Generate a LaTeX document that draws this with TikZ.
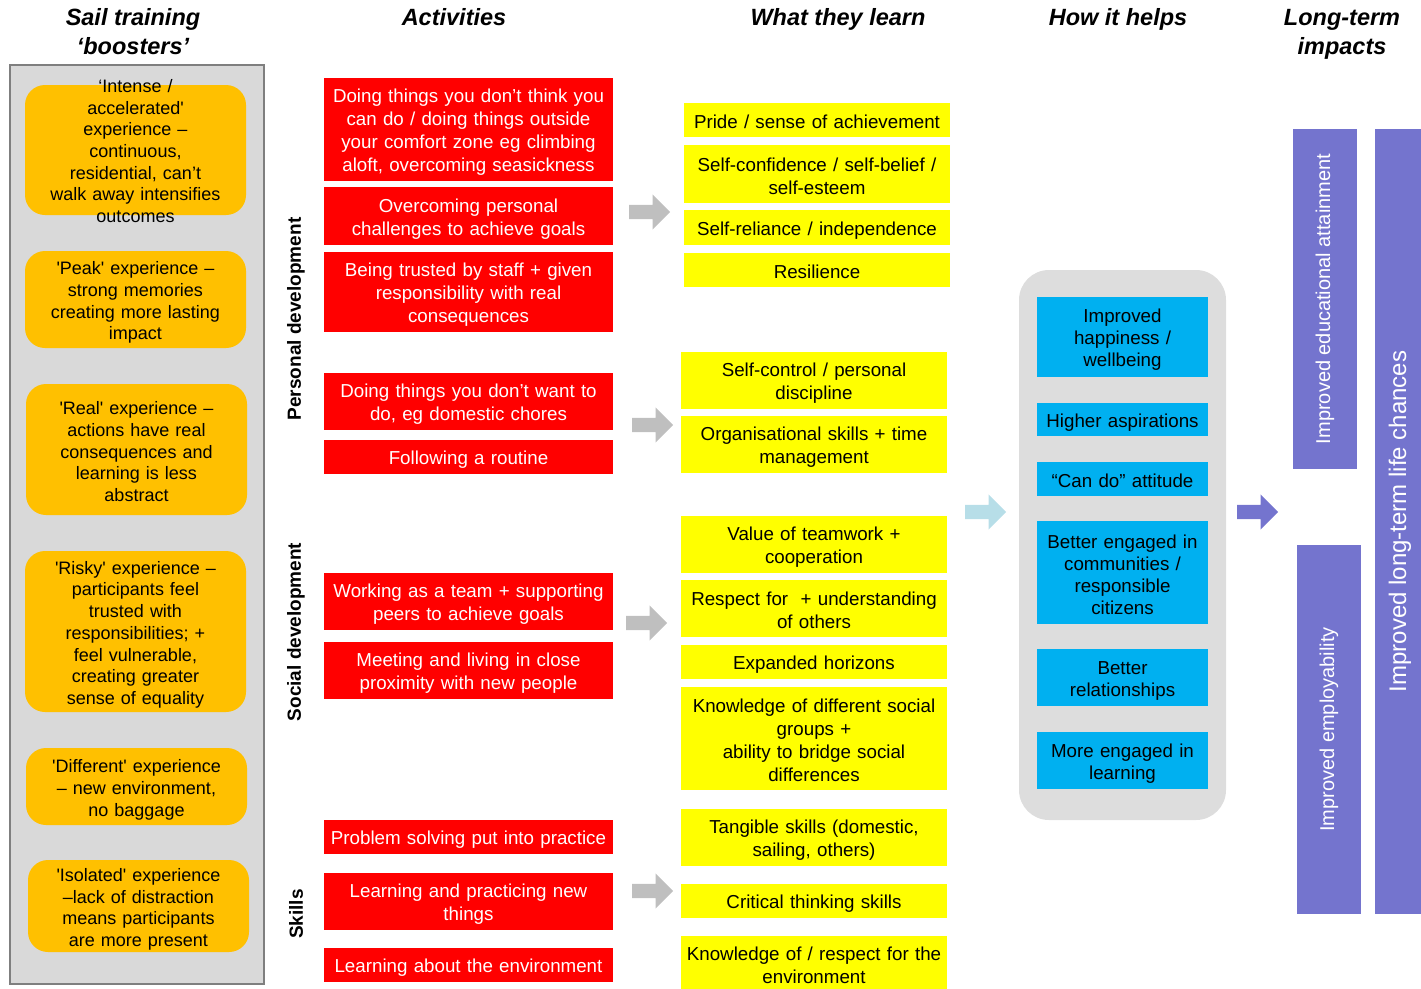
\documentclass[tikz,border=0pt]{standalone}
\usepackage{fontspec}
\setmainfont{Liberation Sans}
\usetikzlibrary{shapes.arrows}
\definecolor{boostorange}{HTML}{FFC000}
\definecolor{panelgrey}{HTML}{D9D9D9}
\definecolor{framegrey}{HTML}{7F7F7F}
\definecolor{helpgrey}{HTML}{DDDDDD}
\definecolor{actred}{HTML}{FF0000}
\definecolor{learnyellow}{HTML}{FFFF00}
\definecolor{helpblue}{HTML}{00B0F0}
\definecolor{impactpurple}{RGB}{116,116,206}
\definecolor{arrowgrey}{HTML}{BFBFBF}
\definecolor{arrowteal}{HTML}{B7DEE8}
\newcommand{\sqt}{\textquotesingle}
\newcommand{\topstrut}{\rule{0pt}{19.5pt}}
\newcommand{\botstrut}{\rule[-2.5pt]{0pt}{2.5pt}}
\tikzset{
 heading/.style={
 align=center,
 inner sep=0pt,
 font=\fontsize{23.5}{29}\selectfont\bfseries\itshape
 },
 strand/.style={
 rotate=90,
 inner sep=0pt,
 font=\fontsize{19}{23}\selectfont\bfseries
 },
 boxtext/.style={
 execute at begin node=\topstrut,
 execute at end node=\botstrut
 },
 boostpanel/.style={
 rectangle,
 fill=panelgrey,
 draw=framegrey,
 line width=1.5pt
 },
 boost/.style={
 rectangle,
 rounded corners=20pt,
 fill=boostorange,
 minimum width=221pt,
 inner sep=0pt
 },
 boosttext/.style={
 boxtext,
 align=center,
 text width=217pt,
 inner sep=0pt,
 font=\fontsize{18}{21.7}\selectfont
 },
 activity/.style={
 rectangle,
 boxtext,
 fill=actred,
 text=white,
 align=center,
 minimum width=289pt,
 text width=285pt,
 inner sep=0pt,
 font=\fontsize{18.75}{23}\selectfont
 },
 learn/.style={
 rectangle,
 boxtext,
 fill=learnyellow,
 align=center,
 minimum width=266pt,
 text width=262pt,
 inner sep=0pt,
 font=\fontsize{18.75}{23}\selectfont
 },
 helppanel/.style={
 rectangle,
 rounded corners=30pt,
 fill=helpgrey,
 minimum width=207pt,
 minimum height=550pt
 },
 helps/.style={
 rectangle,
 boxtext,
 fill=helpblue,
 align=center,
 minimum width=171pt,
 text width=168pt,
 inner sep=0pt,
 font=\fontsize{18.75}{22}\selectfont
 },
 impact/.style={
 rectangle,
 rotate=90,
 fill=impactpurple,
 text=white,
 inner sep=0pt,
 font=\fontsize{20}{24}\selectfont
 },
 blockarrow/.style={
 single arrow,
 draw=none,
 anchor=tail,
 minimum height=41pt,
 minimum width=35pt,
 single arrow head extend=10.5pt,
 single arrow head indent=0pt,
 inner xsep=0pt,
 inner ysep=7pt
 }
}

\begin{document}
\begin{tikzpicture}[x=1pt, y=-1pt]
 \useasboundingbox (0,0) rectangle (1421,988);

 % column headings
 \node[heading] (hboost) at (133,31.5) {Sail training\\‘boosters’};
 \node[heading] (hact) at (454,17) {Activities};
 \node[heading] (hlearn) at (838,19) {What they learn};
 \node[heading] (hhelp) at (1118,19.5) {How it helps};
 \node[heading] (himpact) at (1342,34.5) {Long-term\\impacts};

 % boosters
 \node[boostpanel, minimum width=254pt, minimum height=919pt] (boosters) at (137,524.5) {};
 \node[boost, minimum height=130pt] (o1) at (135.5,150) {};
 \node[boosttext] (o1t) at (135.5,149) {‘Intense /\\accelerated\sqt\\experience –\\continuous,\\residential, can’t\\walk away intensifies\\outcomes};
 \node[boost, minimum height=97pt] (o2) at (135.5,299.5) {};
 \node[boosttext] (o2t) at (o2) {\sqt Peak\sqt{} experience –\\strong memories\\creating more lasting\\impact};
 \node[boost, minimum height=131pt] (o3) at (136.5,449.5) {};
 \node[boosttext] (o3t) at (o3) {\sqt Real\sqt{} experience –\\actions have real\\consequences and\\learning is less\\abstract};
 \node[boost, minimum height=161pt] (o4) at (135.5,631.5) {};
 \node[boosttext] (o4t) at (o4) {\sqt Risky\sqt{} experience –\\participants feel\\trusted with\\responsibilities; +\\feel vulnerable,\\creating greater\\sense of equality};
 \node[boost, minimum height=77pt] (o5) at (136.5,786.5) {};
 \node[boosttext] (o5t) at (o5) {\sqt Different\sqt{} experience\\– new environment,\\no baggage};
 \node[boost, minimum height=92pt] (o6) at (138.5,906) {};
 \node[boosttext] (o6t) at (o6) {\sqt Isolated\sqt{} experience\\–lack of distraction\\means participants\\are more present};

 % strands
 \node[strand] (personal) at (296,319) {Personal development};
 \node[strand] (social) at (296,632) {Social development};
 \node[strand] (skills) at (296,914) {Skills};

 % activities
 \node[activity, minimum height=103pt] (a1) at (468.5,129.5) {Doing things you don’t think you\\can do / doing things outside\\your comfort zone eg climbing\\aloft, overcoming seasickness};
 \node[activity, minimum height=58pt] (a2) at (468.5,216) {Overcoming personal\\challenges to achieve goals};
 \node[activity, minimum height=80pt] (a3) at (468.5,292) {Being trusted by staff + given\\responsibility with real\\consequences};
 \node[activity, minimum height=57pt] (a4) at (468.5,401.5) {Doing things you don’t want to\\do, eg domestic chores};
 \node[activity, minimum height=34pt] (a5) at (468.5,457) {Following a routine};
 \node[activity, minimum height=57pt] (a6) at (468.5,601.5) {Working as a team + supporting\\peers to achieve goals};
 \node[activity, minimum height=57pt] (a7) at (468.5,670.5) {Meeting and living in close\\proximity with new people};
 \node[activity, minimum height=34pt] (a8) at (468.5,837) {Problem solving put into practice};
 \node[activity, minimum height=57pt] (a9) at (468.5,901.5) {Learning and practicing new\\things};
 \node[activity, minimum height=34pt] (a10) at (468.5,965) {Learning about the environment};

 \node[blockarrow, fill=arrowgrey] (g1) at (629,212) {};
 \node[blockarrow, fill=arrowgrey] (g2) at (632,425) {};
 \node[blockarrow, fill=arrowgrey] (g3) at (626,623) {};
 \node[blockarrow, fill=arrowgrey] (g4) at (632,891) {};

 % what they learn
 \node[learn, minimum height=34pt] (l1) at (817,120) {Pride / sense of achievement};
 \node[learn, minimum height=58pt] (l2) at (817,174) {Self-confidence / self-belief /\\self-esteem};
 \node[learn, minimum height=35pt] (l3) at (817,227.5) {Self-reliance / independence};
 \node[learn, minimum height=34pt] (l4) at (817,270) {Resilience};
 \node[learn, minimum height=57pt] (l5) at (814,380.5) {Self-control / personal\\discipline};
 \node[learn, minimum height=57pt] (l6) at (814,444.5) {Organisational skills + time\\management};
 \node[learn, minimum height=57pt] (l7) at (814,544.5) {Value of teamwork +\\cooperation};
 \node[learn, minimum height=57pt] (l8) at (814,608.5) {Respect for\ \ + understanding\\of others};
 \node[learn, minimum height=34pt] (l9) at (814,662) {Expanded horizons};
 \node[learn, minimum height=103pt] (l10) at (814,738.5) {Knowledge of different social\\groups +\\ability to bridge social\\differences};
 \node[learn, minimum height=57pt] (l11) at (814,837.5) {Tangible skills (domestic,\\sailing, others)};
 \node[learn, minimum height=34pt] (l12) at (814,901) {Critical thinking skills};
 \node[learn, minimum height=55pt] (l13) at (814,963) {Knowledge of / respect for the\\environment};

 \node[blockarrow, fill=arrowteal] (tealarrow) at (965,512) {};

 % how it helps
 \node[helppanel] (helps) at (1122.5,545) {};
 \node[helps, minimum height=80pt] (h1) at (1122.5,337) {Improved\\happiness /\\wellbeing};
 \node[helps, minimum height=33pt] (h2) at (1122.5,419.5) {Higher aspirations};
 \node[helps, minimum height=34pt] (h3) at (1122.5,479) {“Can do” attitude};
 \node[helps, minimum height=103pt] (h4) at (1122.5,572.5) {Better engaged in\\communities /\\responsible\\citizens};
 \node[helps, minimum height=57pt] (h5) at (1122.5,677.5) {Better\\relationships};
 \node[helps, minimum height=57pt] (h6) at (1122.5,760.5) {More engaged in\\learning};

 \node[blockarrow, fill=impactpurple] (purplearrow) at (1237,512) {};

 % long-term impacts
 \node[impact, minimum width=340pt, minimum height=64pt] (edu) at (1325,299) {Improved educational attainment};
 \node[impact, minimum width=369pt, minimum height=64pt] (employ) at (1329,729.5) {Improved employability};
 \node[impact, minimum width=785pt, minimum height=50pt, font=\fontsize{24}{28}\selectfont] (life) at (1400,521.5) {Improved long-term life chances};
\end{tikzpicture}
\end{document}
